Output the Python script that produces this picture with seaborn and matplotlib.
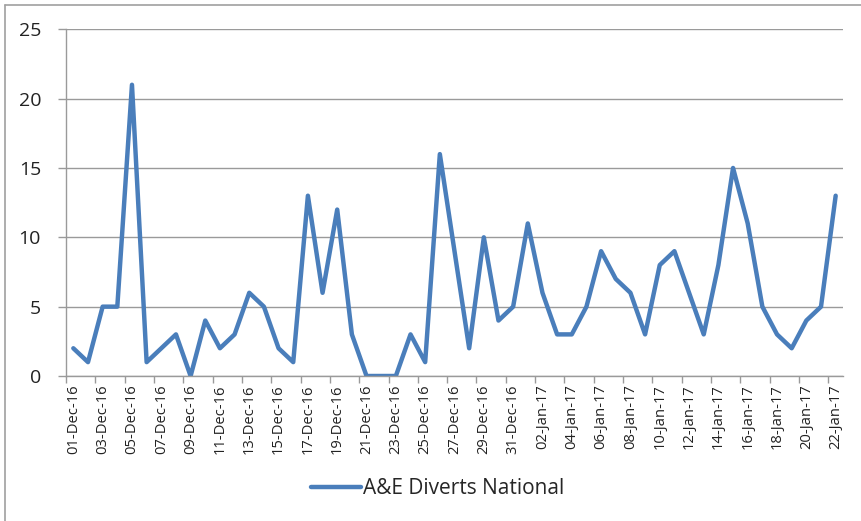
import matplotlib
matplotlib.use("Agg")
import matplotlib.pyplot as plt
from matplotlib.lines import Line2D
import seaborn as sns
import pandas as pd

# ---- data ----
start_date = "2016-12-01"
end_date = "2017-01-22"
dec_values = [2, 1, 5, 5, 21, 1, 2, 3, 0, 4, 2, 3, 6, 5, 2, 1, 13, 6, 12, 3,
              0, 0, 0, 3, 1, 16, 9, 2, 10, 4, 5]
jan_values = [11, 6, 3, 3, 5, 9, 7, 6, 3, 8, 9, 6, 3, 8, 15, 11, 5, 3, 2, 4, 5, 13]
series_name = "A&E Diverts National"
y_ticks = [0, 5, 10, 15, 20, 25]

dates = pd.date_range(start_date, end_date, freq="D")
labels = [d.strftime("%d-%b-%y") for d in dates]
values = dec_values + jan_values
df = pd.DataFrame({"date": labels, "value": values, "series": series_name})

sns.set_theme(style="white")
plt.rcParams["font.family"] = ["Open Sans", "DejaVu Sans"]

W, H = 861, 521
fig = plt.figure(figsize=(W / 100, H / 100), dpi=100)
left, right, top, bottom = 66, 843, 29.3, 376
ax = fig.add_axes([left / W, 1 - bottom / H, (right - left) / W, (bottom - top) / H])

line_color = "#4A7EBB"
sns.lineplot(data=df, x="date", y="value", ax=ax, color=line_color,
             linewidth=3.2, sort=False, legend=False)

n = len(labels)
ax.set_xlim(-0.5, n - 0.5)
ax.set_ylim(0, 25)
ax.set_yticks(y_ticks)
ax.set_yticklabels([str(t) for t in y_ticks], fontsize=14, color="#222222")
ax.grid(axis="y", color="#9a9a9a", linewidth=1.0)
ax.set_axisbelow(True)

# category-boundary ticks, labels at category centres
ax.set_xticks([i - 0.5 for i in range(0, n + 1, 2)])
ax.set_xticklabels([])
ax.set_xticks(list(range(0, n, 2)), minor=True)
ax.set_xticklabels([labels[i] for i in range(0, n, 2)], minor=True,
                   rotation=90, fontsize=10.6, color="#222222")
ax.tick_params(axis="x", which="major", length=5, width=1, color="#9a9a9a",
               direction="out", bottom=True)
ax.tick_params(axis="x", which="minor", length=0, pad=6, bottom=True)
ax.tick_params(axis="y", which="major", length=6, width=1, color="#9a9a9a",
               direction="out", left=True, pad=12)

for s in ["top", "right"]:
    ax.spines[s].set_visible(False)
for s in ["left", "bottom"]:
    ax.spines[s].set_color("#9a9a9a")
    ax.spines[s].set_linewidth(1.0)

ax.set_xlabel("")
ax.set_ylabel("")

handle = Line2D([0], [0], color=line_color, linewidth=3.2)
fig.legend([handle], [series_name], loc="center", bbox_to_anchor=(438 / W, 1 - 489 / H),
           frameon=False, fontsize=15, handlelength=2.4, handletextpad=0.1)

# chart-area border (left and top visible)
fig.add_artist(Line2D([4.5 / W, 4.5 / W], [0, 1 - 4.5 / H], color="#a0a0a0",
                      linewidth=1.2, transform=fig.transFigure))
fig.add_artist(Line2D([4.5 / W, 1], [1 - 4.5 / H, 1 - 4.5 / H], color="#a0a0a0",
                      linewidth=1.2, transform=fig.transFigure))

fig.savefig("out.png", dpi=100)
